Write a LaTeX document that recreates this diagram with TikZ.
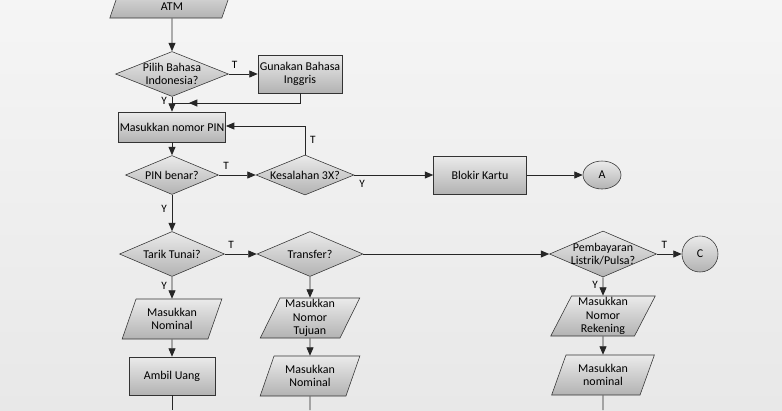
\documentclass[tikz,border=0pt]{standalone}
\usepackage{fontspec}
\setmainfont{Carlito}
\usetikzlibrary{shapes.geometric,arrows.meta}
\tikzset{
  base/.style={draw=black!80, top color=black!8, bottom color=black!30, font=\fontsize{8.5}{9.5}\selectfont, align=center, inner sep=1pt},
  proses/.style={base, rectangle, minimum width=#1*0.025cm, minimum height=0.95cm},
  keputusan/.style 2 args={base, diamond, minimum width=#1*0.025cm, minimum height=#2*0.025cm, inner sep=0pt},
  isi/.style={font=\fontsize{8.5}{9.5}\selectfont, align=center, inner sep=0pt},
  io/.style={base, trapezium, trapezium left angle=65, trapezium right angle=115, trapezium stretches=true, minimum width=#1*0.025cm, minimum height=1.0cm, inner ysep=0pt},
  konektor/.style={base, ellipse, minimum width=0.95cm, minimum height=0.7cm},
  panah/.style={-{Triangle[length=6pt,width=5pt]}, draw=black!85, line width=0.6pt},
  garis/.style={draw=black!85, line width=0.6pt},
  lbl/.style={font=\fontsize{8}{9}\selectfont}
}
\begin{document}
\begin{tikzpicture}[x=0.025cm, y=-0.025cm]
  \useasboundingbox[top color=black!4, bottom color=black!9] (0,0) rectangle (782,410);

  % kolom kiri
  \node[io=125, minimum height=0.9cm] (kartu) at (172,0) {Masukkan Kartu\\ATM};
  \node[keputusan={113}{45}] (bahasa)  at (172,74)  {};
  \node[isi] at (bahasa) {Pilih Bahasa\\Indonesia?};
  \node[proses=84]     (inggris) at (300,74)  {Gunakan Bahasa\\Inggris};
  \node[proses=107, minimum height=0.75cm] (pin) at (172,127) {Masukkan nomor PIN};
  \node[keputusan={93}{39}] (benar) at (172,175) {};
  \node[isi] at (benar) {PIN benar?};
  \node[keputusan={98}{40}] (salah) at (305,175) {};
  \node[isi] at (salah) {Kesalahan 3X?};
  \node[proses=93]     (blokir)  at (480,175) {Blokir Kartu};
  \node[konektor]      (A)       at (602,175) {A};

  % menu
  \node[keputusan={105}{45}] (tunai)    at (172,254) {};
  \node[isi] at (tunai) {Tarik Tunai?};
  \node[keputusan={106}{45}] (transfer) at (310,254) {};
  \node[isi] at (transfer) {Transfer?};
  \node[keputusan={107}{46}] (bayar)    at (603,254) {};
  \node[isi] at (bayar) {Pembayaran\\Listrik/Pulsa?};
  \node[konektor, minimum width=0.9cm, minimum height=0.9cm] (C) at (700,254) {C};

  \node[io=100]        (nom1)   at (172,319) {Masukkan\\Nominal};
  \node[proses=86]     (ambil)  at (172,376) {Ambil Uang};
  \node[io=100]        (tujuan) at (310,318) {Masukkan\\Nomor\\Tujuan};
  \node[io=100]        (nom2)   at (310,376) {Masukkan\\Nominal};
  \node[io=105]        (rek)    at (603,316) {Masukkan\\Nomor\\Rekening};
  \node[io=103]        (nom3)   at (603,375) {Masukkan\\nominal};

  \coordinate (k1) at (300,103);
  \coordinate (k2) at (172,103);
  \coordinate (k3) at (305,126);
  \coordinate (e1) at (172,410);
  \coordinate (e2) at (310,410);
  \coordinate (e3) at (603,410);

  \draw[panah] (kartu) -- (bahasa);
  \draw[panah] (bahasa) -- node[lbl, pos=0.2, above]{T} (inggris);
  \draw[panah] (bahasa) -- node[lbl, pos=0.3, left]{Y} (pin);
  \draw[garis] (inggris) |- (k2);
  \draw[panah] (k1) -- ([xshift=12]k2);
  \draw[panah] (pin) -- (benar);
  \draw[panah] (benar) -- node[lbl, pos=0.2, above]{T} (salah);
  \draw[panah] (salah.north) -- node[lbl, pos=0.5, right]{T} (k3) -- (pin.east|-k3);
  \draw[panah] (salah) -- node[lbl, pos=0.1, below]{Y} (blokir);
  \draw[panah] (blokir) -- (A);
  \draw[panah] (benar) -- node[lbl, pos=0.4, left]{Y} (tunai);
  \draw[panah] (tunai) -- node[lbl, pos=0.2, above]{T} (transfer);
  \draw[panah] (transfer) -- (bayar);
  \draw[panah] (bayar) -- node[lbl, pos=0.3, above]{T} (C);
  \draw[panah] (tunai) -- node[lbl, pos=0.4, left]{Y} (nom1);
  \draw[panah] (nom1) -- (ambil);
  \draw[garis] (ambil) -- (e1);
  \draw[panah] (transfer) -- (tujuan);
  \draw[panah] (tujuan) -- (nom2);
  \draw[garis] (nom2) -- (e2);
  \draw[panah] (bayar) -- node[lbl, pos=0.4, left]{Y} (rek);
  \draw[panah] (rek) -- (nom3);
  \draw[garis] (nom3) -- (e3);
\end{tikzpicture}
\end{document}
